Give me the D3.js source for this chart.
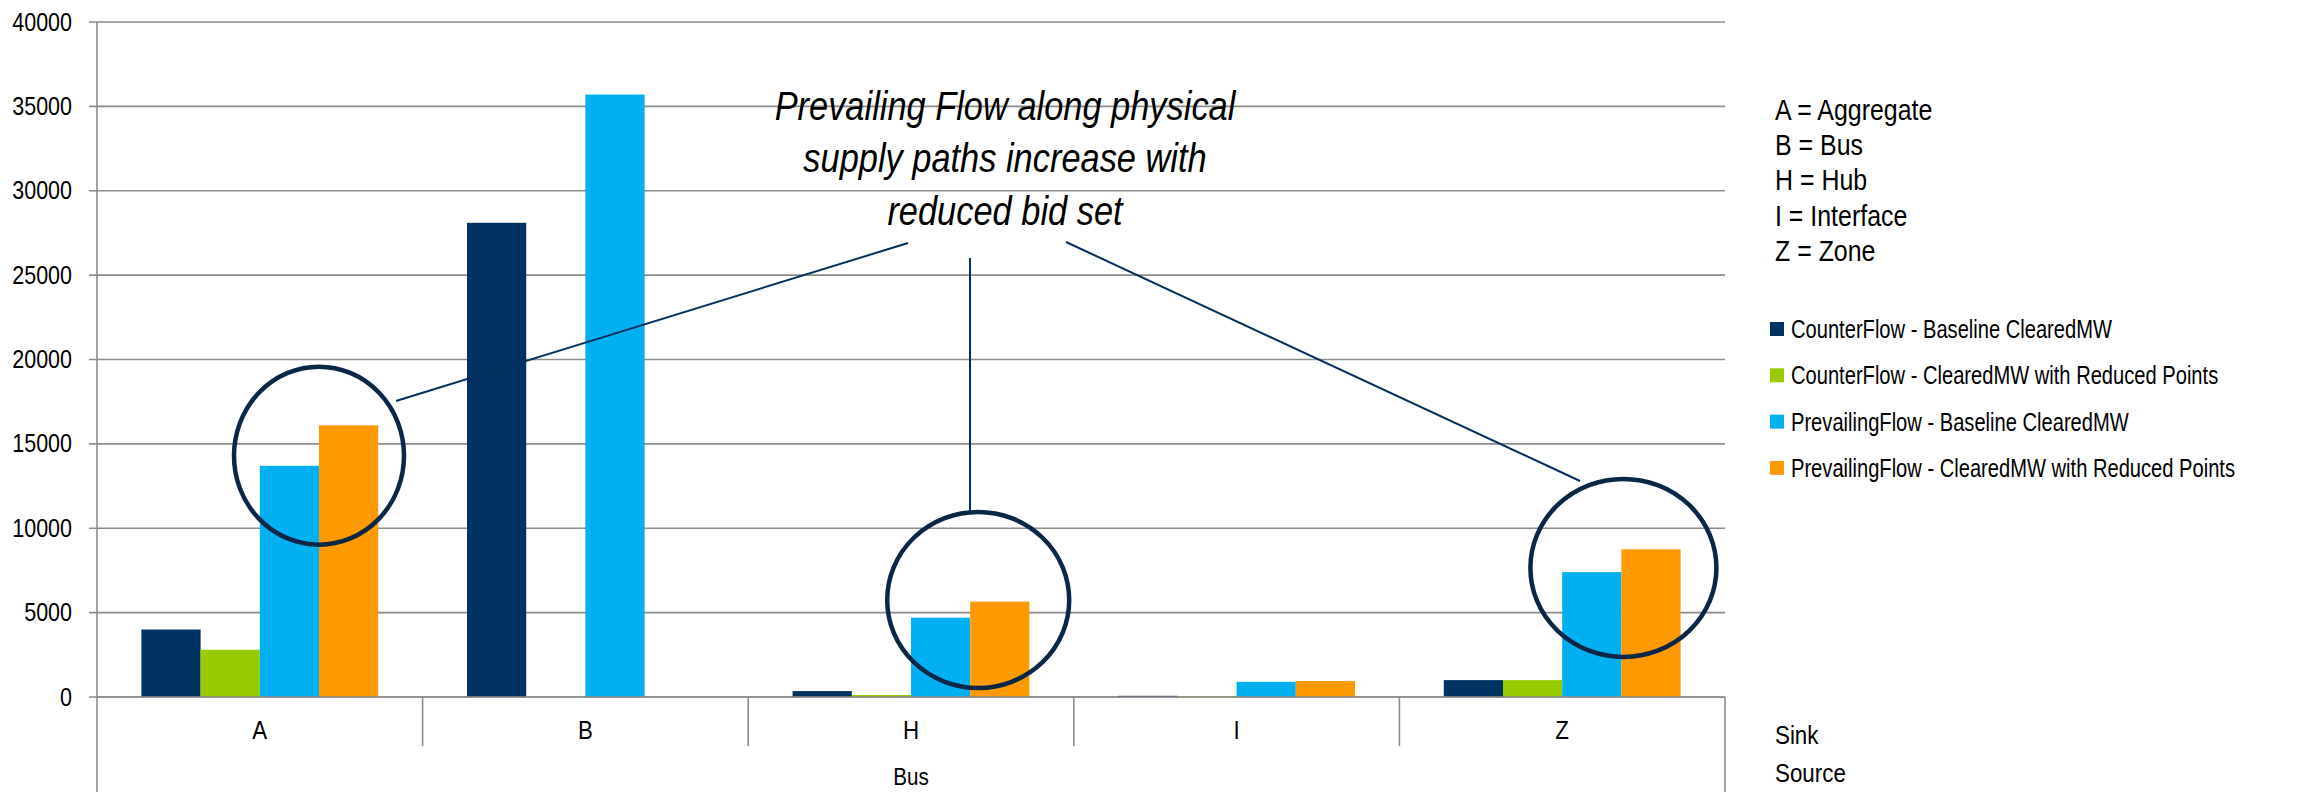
<!DOCTYPE html>
<html>
<head>
<meta charset="utf-8">
<script src="https://cdn.jsdelivr.net/npm/d3@7"></script>
<style>
  html, body { margin: 0; padding: 0; background: #fff; }
  svg { display: block; }
  text { font-family: "Liberation Sans", Arial, sans-serif; fill: #000; }
</style>
</head>
<body>
<svg id="chart" width="2300" height="792"></svg>
<script>
// ---- data ----
const categories = ["A", "B", "H", "I", "Z"];
const seriesNames = [
  "CounterFlow - Baseline ClearedMW",
  "CounterFlow - ClearedMW with Reduced Points",
  "PrevailingFlow - Baseline ClearedMW",
  "PrevailingFlow - ClearedMW with Reduced Points"
];
const counterFlowBaseline = [4000, 28100, 350, 70, 1000];
const counterFlowReduced  = [2800, 0, 120, 40, 1000];
const prevailingBaseline  = [13700, 35700, 4700, 900, 7400];
const prevailingReduced   = [16100, 0, 5650, 950, 8750];
const yTicks = [0, 5000, 10000, 15000, 20000, 25000, 30000, 35000, 40000];
const sourceLabel = "Bus";
const rowLabels = ["Sink", "Source"];
const keyLines = ["A = Aggregate", "B = Bus", "H = Hub", "I = Interface", "Z = Zone"];
const noteLines = ["Prevailing Flow along physical", "supply paths increase with", "reduced bid set"];
// circled groups: category and centre value
const circledCats = ["A", "H", "Z"];
const circledVals = [14300, 5750, 7650];

const seriesValues = [counterFlowBaseline, counterFlowReduced, prevailingBaseline, prevailingReduced];
const colors = ["#003262", "#99cc00", "#00b0f0", "#ff9900"];

// ---- layout ----
const L = 97, R = 1725, T = 22, B0 = 697;
const svg = d3.select("#chart");

const x = d3.scaleBand().domain(categories).range([L, R]).paddingInner(0).paddingOuter(0);
const xs = d3.scaleBand().domain(d3.range(seriesNames.length)).range([0, x.bandwidth()]).paddingInner(0).paddingOuter(0.75);
const y = d3.scaleLinear().domain([0, 40000]).range([B0, T]);

const gridColor = "#8c8c8c";

// condensed text placement helper
function place(sel, fx, fy, sx) {
  return sel.attr("transform", (d, i) => `translate(${fx(d, i)},${fy(d, i)}) scale(${sx},1)`);
}

// gridlines
svg.append("g").selectAll("line").data(yTicks).join("line")
  .attr("x1", L - 8).attr("x2", R)
  .attr("y1", d => y(d)).attr("y2", d => y(d))
  .attr("stroke", gridColor).attr("stroke-width", 1.6);

// y axis labels
place(svg.append("g").selectAll("text").data(yTicks).join("text"),
      () => L - 25, d => y(d), 0.86)
  .attr("text-anchor", "end").attr("dominant-baseline", "central")
  .style("font-size", "25px")
  .text(d => d);

// bars
const data = [];
categories.forEach((c, ci) => seriesValues.forEach((vals, si) => data.push({ c, si, v: vals[ci] })));
svg.append("g").selectAll("rect").data(data.filter(d => d.v > 0)).join("rect")
  .attr("x", d => x(d.c) + xs(d.si))
  .attr("width", xs.bandwidth())
  .attr("y", d => y(d.v))
  .attr("height", d => y(0) - y(d.v))
  .attr("fill", d => colors[d.si]);

// y axis line
svg.append("line").attr("x1", L).attr("x2", L).attr("y1", T).attr("y2", 792)
  .attr("stroke", gridColor).attr("stroke-width", 1.6);
// x base line
svg.append("line").attr("x1", L).attr("x2", R).attr("y1", B0).attr("y2", B0)
  .attr("stroke", gridColor).attr("stroke-width", 1.6);
// category separators
svg.append("g").selectAll("line").data(categories.slice(1)).join("line")
  .attr("x1", d => x(d)).attr("x2", d => x(d))
  .attr("y1", B0).attr("y2", B0 + 49)
  .attr("stroke", gridColor).attr("stroke-width", 1.6);
// right bracket of the source group
svg.append("line").attr("x1", R).attr("x2", R).attr("y1", B0).attr("y2", 792)
  .attr("stroke", gridColor).attr("stroke-width", 1.6);

// category labels
place(svg.append("g").selectAll("text").data(categories).join("text"),
      d => x(d) + x.bandwidth() / 2, () => 730, 0.86)
  .attr("text-anchor", "middle").attr("dominant-baseline", "central")
  .style("font-size", "26px").text(d => d);
place(svg.append("text").datum(sourceLabel), () => (L + R) / 2, () => 777, 0.86)
  .attr("text-anchor", "middle").attr("dominant-baseline", "central")
  .style("font-size", "24px").text(d => d);
place(svg.append("g").selectAll("text").data(rowLabels).join("text"),
      () => 1775, (d, i) => 735 + i * 38, 0.86)
  .attr("dominant-baseline", "central")
  .style("font-size", "26px").text(d => d);

// key for letter codes
place(svg.append("g").selectAll("text").data(keyLines).join("text"),
      () => 1775, (d, i) => 110 + i * 35.3, 0.86)
  .attr("dominant-baseline", "central")
  .style("font-size", "29px").text(d => d);

// legend
const lg = svg.append("g").selectAll("g").data(seriesNames).join("g")
  .attr("transform", (d, i) => `translate(1770, ${329 + i * 46.3})`);
lg.append("rect").attr("x", 0).attr("y", -7).attr("width", 14).attr("height", 14)
  .attr("fill", (d, i) => colors[i]);
lg.append("text").attr("transform", "translate(21,0) scale(0.76,1)").attr("dominant-baseline", "central")
  .style("font-size", "26.5px").text(d => d);

// annotation
const noteColor = "#00305e";
place(svg.append("g").selectAll("text").data(noteLines).join("text"),
      () => 1005, (d, i) => 106 + i * 52.3, 0.86)
  .attr("text-anchor", "middle").attr("dominant-baseline", "central")
  .style("font-size", "40px").style("font-style", "italic").text(d => d);

const ellipseR = [[85, 89], [91, 88], [93, 89]];
const ellipseDx = [0, 8, 2];
svg.append("g").selectAll("ellipse").data(circledCats).join("ellipse")
  .attr("cx", (d, i) => x(d) + xs(3) + ellipseDx[i])
  .attr("cy", (d, i) => y(circledVals[i]))
  .attr("rx", (d, i) => ellipseR[i][0]).attr("ry", (d, i) => ellipseR[i][1])
  .attr("fill", "none").attr("stroke", "#0b2748").attr("stroke-width", 4.5);

const leaders = [
  [[396, 401], [908, 243]],
  [[970, 258], [970, 512]],
  [[1066, 242], [1580, 481]]
];
svg.append("g").selectAll("line").data(leaders).join("line")
  .attr("x1", d => d[0][0]).attr("y1", d => d[0][1])
  .attr("x2", d => d[1][0]).attr("y2", d => d[1][1])
  .attr("stroke", noteColor).attr("stroke-width", 2);
</script>
</body>
</html>
